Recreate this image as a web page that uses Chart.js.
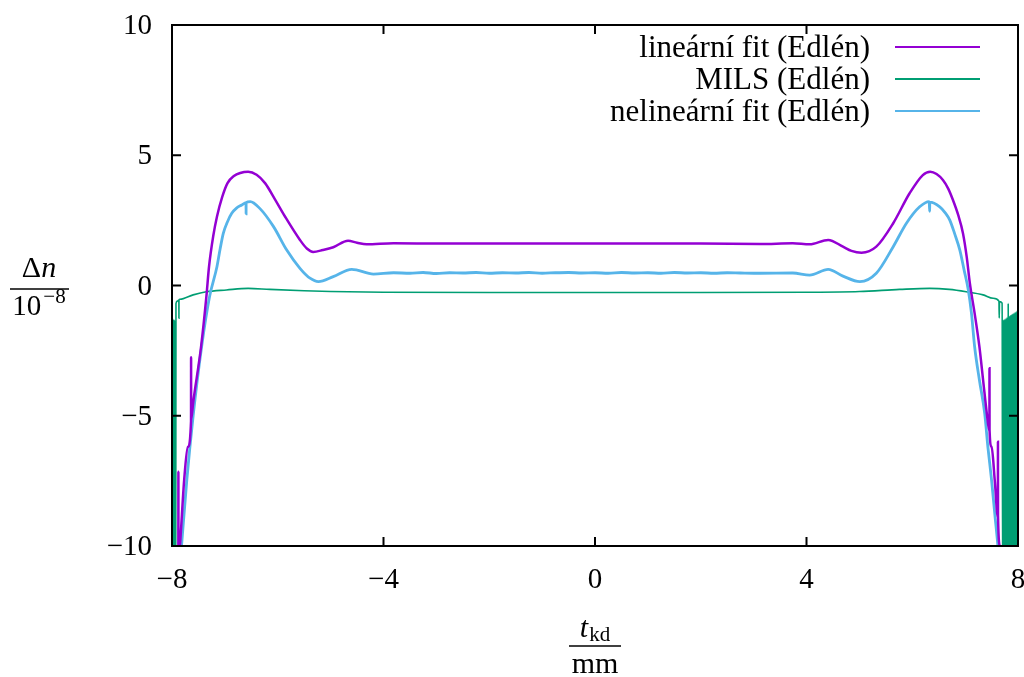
<!DOCTYPE html>
<html lang="cs">
<head>
<meta charset="UTF-8">
<title>Δn – Edlén</title>
<style>
  body { margin: 0; background: #fff; }
  canvas { display: block; }
</style>
</head>
<body>
<canvas id="myChart" width="1024" height="677"></canvas>
<script src="https://cdn.jsdelivr.net/npm/chart.js@4.4.0/dist/chart.umd.min.js"></script>
<script>
// tick values
const xTicks = [-8, -4, 0, 4, 8];
const yTicks = [-10, -5, 0, 5, 10];

// legend names
const seriesNames = ['lineární fit (Edlén)', 'MILS (Edlén)', 'nelineární fit (Edlén)'];

// lineární fit (Edlén)
const linX = [-7.92, -7.88, -7.879, -7.878, -7.85, -7.77, -7.7, -7.64, -7.639, -7.638, -7.6, -7.45, -7.35, -7.3,
  -7.22, -7.15, -7.05, -6.95, -6.83, -6.71, -6.56, -6.4, -6.24, -6.05, -5.86, -5.58, -5.45, -5.33, -5.15, -4.95,
  -4.67, -4.5, -4.32, -3.81, -2.93, -2, -1, 0, 1, 2, 3.12, 3.74, 4.06, 4.41, 4.69, 4.85, 5.04, 5.32, 5.64, 5.95,
  6.2, 6.34, 6.46, 6.58, 6.68, 6.77, 6.87, 6.96, 7.03, 7.09, 7.18, 7.27, 7.34, 7.41, 7.46, 7.461, 7.462, 7.5,
  7.56, 7.62, 7.621, 7.622, 7.66, 7.7];
const linY = [-11.5, -10.7, -7.15, -10.6, -10, -7.47, -6.2, -5.2, -2.75, -5.15, -4.5, -2.35, -0.43, 0.72,
  1.9, 2.64, 3.4, 3.93, 4.2, 4.32, 4.37, 4.25, 3.93, 3.3, 2.64, 1.75, 1.42, 1.29, 1.36, 1.47,
  1.72, 1.64, 1.58, 1.62, 1.61, 1.61, 1.61, 1.61, 1.61, 1.61, 1.59, 1.62, 1.58, 1.75, 1.49, 1.33, 1.26, 1.49, 2.39, 3.54,
  4.24, 4.37, 4.28, 4.05, 3.72, 3.28, 2.7, 2.0, 1.1, 0.08, -1.07, -2.35, -3.63, -4.91, -5.6, -3.18, -5.55, -6.19,
  -7.47, -8.9, -6.0, -8.85, -10, -11];

// MILS (Edlén)
const milsX = [-7.985, -7.978, -7.971, -7.964, -7.957, -7.95, -7.943, -7.936, -7.93, -7.925, -7.9, -7.87, -7.869,
  -7.868, -7.85, -7.6, -7.35, -6.97, -6.56, -6.15, -5.5, -5, -4, -2, 0, 2, 4, 5, 5.76, 6.33, 6.7, 7.02, 7.34,
  7.53, 7.64, 7.645, 7.65, 7.7, 7.71, 7.72, 7.73, 7.74, 7.75, 7.76, 7.77, 7.78, 7.79, 7.8, 7.81, 7.815, 7.82,
  7.83, 7.84, 7.85, 7.86, 7.87, 7.88, 7.89, 7.9, 7.91, 7.92, 7.93, 7.94, 7.95, 7.96, 7.97, 7.98, 7.99, 8.0];
const milsY = [-12, -1.3, -12, -1.3, -12, -1.32, -12, -1.32, -12, -0.7, -0.6, -0.56, -1.26,
  -0.56, -0.53, -0.36, -0.24, -0.17, -0.11, -0.15, -0.2, -0.23, -0.26, -0.27, -0.27, -0.27, -0.26, -0.23, -0.15, -0.11, -0.15, -0.24, -0.36,
  -0.49, -0.6, -1.25, -0.62, -0.68, -12, -1.32, -12, -1.3, -12, -1.28, -12, -1.25, -12, -1.22, -12, -0.68, -12,
  -1.18, -12, -1.15, -12, -1.12, -12, -1.1, -12, -1.07, -12, -1.05, -12, -1.02, -12, -1.0, -12, -0.97, -12];

// nelineární fit (Edlén)
const nelX = [-7.86, -7.82, -7.72, -7.6, -7.44, -7.29, -7.15, -7.09, -7.03, -6.95, -6.87, -6.78, -6.68, -6.6, -6.599,
  -6.598, -6.52, -6.34, -6.08, -5.83, -5.58, -5.39, -5.23, -4.95, -4.6, -4.19, -3.81, -3.5, -3.25, -3, -2.75,
  -2.5, -2.25, -2, -1.75, -1.5, -1.25, -1, -0.75, -0.5, -0.25, 0, 0.25, 0.5, 0.75, 1, 1.25, 1.5, 1.75, 2, 2.25,
  2.5, 2.75, 3.12, 3.74, 4.06, 4.41, 4.69, 5.01, 5.32, 5.64, 5.89, 6.14, 6.32, 6.33, 6.331, 6.52, 6.62, 6.71,
  6.8, 6.9, 6.98, 7.06, 7.12, 7.18, 7.27, 7.37, 7.43, 7.5, 7.56, 7.62, 7.66];
const nelY = [-11, -10, -7.47, -5, -2.35, -0.43, 0.72, 1.4, 2.0, 2.45, 2.77, 2.97, 3.09, 3.18, 2.75,
  3.18, 3.22, 2.96, 2.26, 1.36, 0.66, 0.28, 0.15, 0.34, 0.62, 0.44, 0.49, 0.47, 0.5, 0.46, 0.49,
  0.48, 0.5, 0.47, 0.49, 0.48, 0.5, 0.47, 0.49, 0.5, 0.48, 0.49, 0.47, 0.5, 0.48, 0.49, 0.47, 0.5, 0.48, 0.49, 0.47,
  0.49, 0.48, 0.47, 0.48, 0.4, 0.62, 0.36, 0.15, 0.47, 1.49, 2.39, 3.02, 3.22, 2.85, 3.2, 3.02, 2.8, 2.51,
  2.0, 1.36, 0.6, -0.17, -1.07, -2.35, -3.63, -4.91, -6.19, -7.47, -8.75, -10, -11];

const colors = ['#9400d3', '#009e73', '#56b4e9'];
const FONT = '"Liberation Serif", "DejaVu Serif", serif';

function pts(xs, ys) {
  return xs.map((x, i) => ({ x: x, y: ys[i] }));
}

// frame, inward ticks on all four sides, tick labels, axis labels and legend
const gnuplotFrame = {
  id: 'gnuplotFrame',
  afterDraw(chart) {
    const ctx = chart.ctx;
    const a = chart.chartArea;
    const xs = chart.scales.x, ys = chart.scales.y;
    const tl = 9;
    ctx.save();
    ctx.strokeStyle = '#000';
    ctx.lineWidth = 2;
    ctx.beginPath();
    xTicks.forEach(v => {
      const px = xs.getPixelForValue(v);
      ctx.moveTo(px, a.bottom); ctx.lineTo(px, a.bottom - tl);
      ctx.moveTo(px, a.top); ctx.lineTo(px, a.top + tl);
    });
    yTicks.forEach(v => {
      const py = ys.getPixelForValue(v);
      ctx.moveTo(a.left, py); ctx.lineTo(a.left + tl, py);
      ctx.moveTo(a.right, py); ctx.lineTo(a.right - tl, py);
    });
    ctx.stroke();
    ctx.strokeRect(a.left, a.top, a.right - a.left, a.bottom - a.top);

    ctx.fillStyle = '#000';
    ctx.font = '29px ' + FONT;
    ctx.textBaseline = 'alphabetic';
    ctx.textAlign = 'right';
    yTicks.forEach(v => {
      const py = ys.getPixelForValue(v);
      ctx.fillText(String(v).replace('-', '\u2212'), a.left - 20, py + 9);
    });
    ctx.textAlign = 'center';
    xTicks.forEach(v => {
      const px = xs.getPixelForValue(v);
      ctx.fillText(String(v).replace('-', '\u2212'), px, a.bottom + 42);
    });

    // y axis label: Δn / 10^-8
    ctx.textAlign = 'left';
    ctx.font = '30px ' + FONT;
    const wD = ctx.measureText('\u0394').width;
    ctx.font = 'italic 30px ' + FONT;
    const wn = ctx.measureText('n').width;
    let x0 = 39 - (wD + wn) / 2;
    ctx.font = '30px ' + FONT;
    ctx.fillText('\u0394', x0, 277);
    ctx.font = 'italic 30px ' + FONT;
    ctx.fillText('n', x0 + wD, 277);
    ctx.beginPath();
    ctx.lineWidth = 1.3;
    ctx.moveTo(10, 289); ctx.lineTo(69, 289);
    ctx.stroke();
    ctx.font = '29px ' + FONT;
    const w10 = ctx.measureText('10').width;
    ctx.font = '21px ' + FONT;
    const wExp = ctx.measureText('\u22128').width;
    x0 = 39 - (w10 + wExp + 2) / 2;
    ctx.font = '29px ' + FONT;
    ctx.fillText('10', x0, 315);
    ctx.font = '21px ' + FONT;
    ctx.fillText('\u22128', x0 + w10 + 2, 303);

    // x axis label: t_kd / mm
    ctx.font = 'italic 30px ' + FONT;
    const wt = ctx.measureText('t').width;
    ctx.font = '21px ' + FONT;
    const wkd = ctx.measureText('kd').width;
    x0 = 595 - (wt + wkd + 1) / 2;
    ctx.font = 'italic 30px ' + FONT;
    ctx.fillText('t', x0, 637);
    ctx.font = '21px ' + FONT;
    ctx.fillText('kd', x0 + wt + 1, 641);
    ctx.beginPath();
    ctx.moveTo(569, 646); ctx.lineTo(621, 646);
    ctx.stroke();
    ctx.font = '30px ' + FONT;
    ctx.textAlign = 'center';
    ctx.fillText('mm', 595, 673);

    // legend
    const rows = [47, 79, 111];
    seriesNames.forEach((name, i) => {
      ctx.font = '31px ' + FONT;
      ctx.textAlign = 'right';
      ctx.fillStyle = '#000';
      ctx.fillText(name, 870, rows[i] + 10);
      ctx.strokeStyle = colors[i];
      ctx.lineWidth = 2;
      ctx.beginPath();
      ctx.moveTo(895, rows[i]); ctx.lineTo(980, rows[i]);
      ctx.stroke();
    });
    ctx.restore();
  }
};

const ctx = document.getElementById('myChart').getContext('2d');

const chart = new Chart(ctx, {
  type: 'line',
  data: {
    datasets: [
      { label: seriesNames[0], data: pts(linX, linY), borderColor: colors[0], borderWidth: 2.5, order: 1 },
      { label: seriesNames[1], data: pts(milsX, milsY), borderColor: colors[1], borderWidth: 1.6, order: 3 },
      { label: seriesNames[2], data: pts(nelX, nelY), borderColor: colors[2], borderWidth: 2.8, order: 2 }
    ]
  },
  options: {
    responsive: false,
    animation: false,
    devicePixelRatio: 1,
    layout: { padding: { left: 172, top: 25, right: 6, bottom: 131 } },
    datasets: {
      line: { pointRadius: 0, fill: false, cubicInterpolationMode: 'monotone', clip: 0 }
    },
    plugins: { legend: { display: false }, tooltip: { enabled: false } },
    scales: {
      x: { type: 'linear', min: -8, max: 8, display: false },
      y: { type: 'linear', min: -10, max: 10, display: false }
    }
  },
  plugins: [gnuplotFrame]
});
</script>
</body>
</html>
